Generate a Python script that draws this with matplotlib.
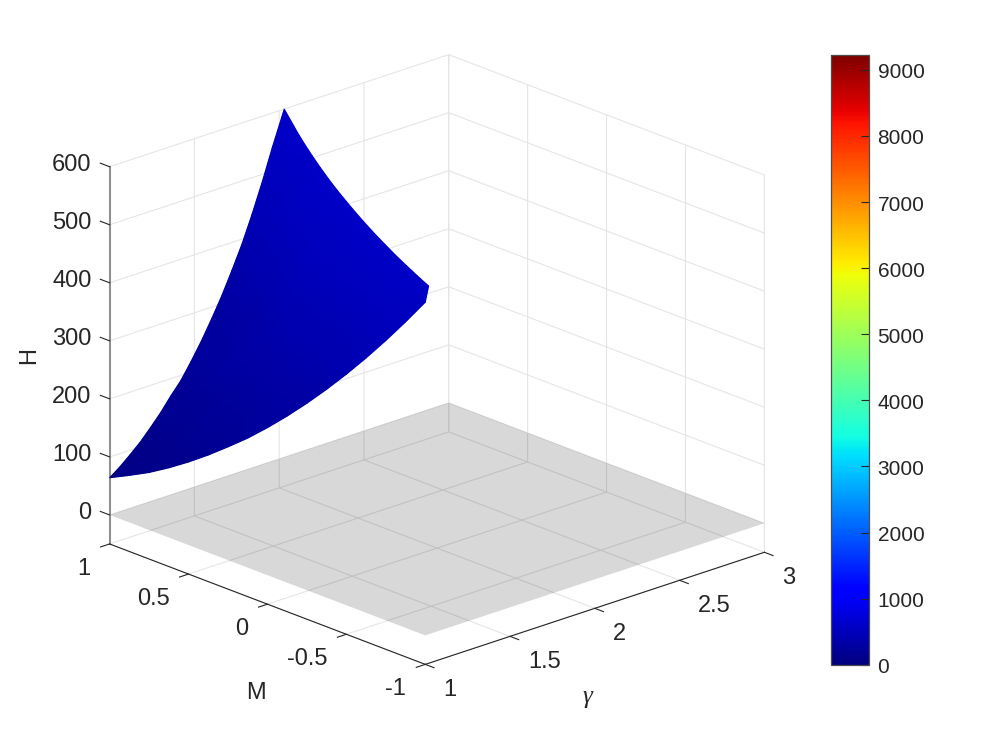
import matplotlib
matplotlib.use('Agg')
import matplotlib.pyplot as plt
import matplotlib.tri as mtri
import numpy as np
from matplotlib import cm
from matplotlib.colors import Normalize
from matplotlib.path import Path
from mpl_toolkits.mplot3d import proj3d

plt.rcParams['font.family'] = ['Liberation Sans', 'DejaVu Sans']

# surface outline. the surface is cut at H = 600, the top of the axis
edge_m1_gamma = [1, 1.06, 1.12, 1.18, 1.24, 1.30, 1.36, 1.42, 1.48, 1.54, 1.60, 1.66, 1.72, 1.78, 1.84, 1.90, 1.96, 2.03]
edge_m1_H = [64, 77, 92, 108, 127, 147, 170, 191, 218, 247, 279, 313, 351, 391, 437, 487, 541, 600]
edge_g1_M = [1, 0.875, 0.75, 0.625, 0.5, 0.375, 0.25, 0.125, 0, -0.125, -0.25, -0.375, -0.5, -0.625, -0.75, -0.875, -1]
edge_g1_H = [64, 81, 99, 120, 143, 168, 195, 223, 254, 287, 322, 359, 398, 439, 482, 527, 574]
cut_M = [0.875, 0.75, 0.625, 0.5, 0.375, 0.25, 0.125, 0, -0.125, -0.25, -0.375, -0.5, -0.625, -0.75, -0.875, -1]
cut_gamma = [1.953, 1.876, 1.802, 1.730, 1.660, 1.592, 1.526, 1.463, 1.401, 1.341, 1.283, 1.227, 1.172, 1.120, 1.069, 1.02]
cut_H = 600

# values inside the outline, one row per M value
inner_M = [0.75, 0.5, 0.25, 0, -0.25, -0.5, -0.75]
inner_gamma = [
    [1.11, 1.22, 1.32, 1.43, 1.54, 1.65, 1.75],
    [1.10, 1.21, 1.31, 1.41, 1.51, 1.62],
    [1.10, 1.20, 1.30, 1.39, 1.49],
    [1.09, 1.18, 1.28, 1.37],
    [1.08, 1.17, 1.25],
    [1.07, 1.15],
    [1.06],
]
inner_H = [
    [135, 178, 223, 281, 348, 425, 503],
    [188, 241, 296, 358, 428, 514],
    [250, 307, 372, 436, 514],
    [311, 371, 446, 520],
    [383, 456, 525],
    [460, 533],
    [537],
]
plane_gamma = [1, 3]
plane_M = [-1, 1]

gamma_ticks = [1, 1.5, 2, 2.5, 3]
M_ticks = [-1, -0.5, 0, 0.5, 1]
H_ticks = [0, 100, 200, 300, 400, 500, 600]
gamma_labels = ['1', '1.5', '2', '2.5', '3']
M_labels = ['-1', '-0.5', '0', '0.5', '1']
H_labels = ['0', '100', '200', '300', '400', '500', '600']
cbar_ticks = [0, 1000, 2000, 3000, 4000, 5000, 6000, 7000, 8000, 9000]
H_color_max = 9220

text_col = '#262626'
W, H = 996, 747

fig = plt.figure(figsize=(W / 100, H / 100), dpi=100)
rect = [53.4 / W, 3.9 / H, 747 / W, 747 / H]
ax = fig.add_axes(rect, projection='3d')
ax.set_proj_type('ortho')
ax.view_init(elev=20.8, azim=227.05)
ax.set_box_aspect((1, 1, 0.871))
ax.set_xlim(1, 3)
ax.set_ylim(-1, 1)
ax.set_zlim(-50, 600)
ax.computed_zorder = False
ax.patch.set_alpha(0)

ax.set_xticks(gamma_ticks)
ax.set_yticks(M_ticks)
ax.set_zticks(H_ticks)
ax.set_xticklabels([])
ax.set_yticklabels([])
ax.set_zticklabels([])
for a in (ax.xaxis, ax.yaxis, ax.zaxis):
    a.set_pane_color((1, 1, 1, 1))
    a.pane.set_edgecolor('none')
    a.line.set_color((0, 0, 0, 0))
    a._axinfo['grid'].update(color='#e4e4e4', linewidth=0.75)
    a._axinfo['tick'].update(inward_factor=0, outward_factor=0)
    a.set_tick_params(color=(0, 0, 0, 0))

# gray plane at H = 0
px, py = zip(*[(g, m) for g in plane_gamma for m in plane_M])
ax.plot_trisurf(px, py, [0, 0, 0, 0], triangles=[[0, 1, 2], [1, 3, 2]], color='k', alpha=0.152,
                linewidth=0, shade=False, zorder=1)

# box edges and ticks
ax.plot([1, 1], [1, 1], [-50, 600], color='#8f8f8f', lw=1.5, zorder=3)
ax.plot([1, 1], [1, -1], [-50, -50], color=text_col, lw=0.8, zorder=3)
ax.plot([1, 3], [-1, -1], [-50, -50], color=text_col, lw=0.8, zorder=3)
for g in gamma_ticks:
    ax.plot([g, g], [-1, -1.055], [-50, -50], color=text_col, lw=0.8, zorder=3)
for m in M_ticks:
    ax.plot([1, 0.947], [m, m], [-50, -50], color=text_col, lw=0.8, zorder=3)
for h in H_ticks:
    ax.plot([1, 1], [1, 1.059], [h, h], color=text_col, lw=0.8, zorder=3)


def to_2d(g, m, h):
    x, y, _ = proj3d.proj_transform(g, m, h, ax.get_proj())
    return x, y


# outline in drawing order, then the inner points
out_g = edge_m1_gamma + cut_gamma + [1] * (len(edge_g1_M) - 1)
out_m = [1] * len(edge_m1_gamma) + cut_M + edge_g1_M[:0:-1]
out_h = edge_m1_H + [cut_H] * len(cut_M) + edge_g1_H[:0:-1]
in_g = [g for row in inner_gamma for g in row]
in_m = [m for m, row in zip(inner_M, inner_gamma) for g in row]
in_h = [h for row in inner_H for h in row]

out_x, out_y = to_2d(np.array(out_g, float), np.array(out_m, float), np.array(out_h, float))
in_x, in_y = to_2d(np.array(in_g, float), np.array(in_m, float), np.array(in_h, float))
all_x = np.r_[out_x, in_x]
all_y = np.r_[out_y, in_y]
all_h = np.array(out_h + in_h, float)

tr = mtri.Triangulation(all_x, all_y)
cx = all_x[tr.triangles].mean(axis=1)
cy = all_y[tr.triangles].mean(axis=1)
tr.set_mask(~Path(np.c_[out_x, out_y]).contains_points(np.c_[cx, cy]))

# the 3d axes cannot hold a gouraud mesh, so it sits in a plain axes on top with the same scale
norm = Normalize(0, H_color_max)
(x0, y0), (x1, y1) = ax.transData.inverted().transform(ax.transAxes.transform([(0, 0), (1, 1)]))
ax2 = fig.add_axes(rect, frameon=False)
ax2.axis('off')
ax2.fill(out_x, out_y, color=cm.jet(norm(300)), lw=0, zorder=1)
ax2.tripcolor(tr, all_h, shading='gouraud', cmap='jet', norm=norm, zorder=2)
ax2.set_xlim(x0, x1)
ax2.set_ylim(y0, y1)

px_off = 0.72
for g, s in zip(gamma_ticks, gamma_labels):
    ax.annotate(s, to_2d(g, -1, -50), xytext=(18 * px_off, -26 * px_off), textcoords='offset points',
                ha='left', va='center', fontsize=17, color=text_col, annotation_clip=False)
for m, s in zip(M_ticks, M_labels):
    ax.annotate(s, to_2d(1, m, -50), xytext=(-19 * px_off, -25 * px_off), textcoords='offset points',
                ha='right', va='center', fontsize=17, color=text_col, annotation_clip=False)
for h, s in zip(H_ticks, H_labels):
    ax.annotate(s, to_2d(1, 1, h), xytext=(-18 * px_off, 2 * px_off), textcoords='offset points',
                ha='right', va='center', fontsize=17, color=text_col, annotation_clip=False)

fig.text(256 / W, 1 - 693 / H, 'M', fontsize=17, color=text_col, ha='center', va='center')
fig.text(29 / W, 1 - 356 / H, 'H', fontsize=17, color=text_col, ha='center', va='center', rotation=90)
fig.text(587 / W, 1 - 697 / H, 'γ', fontsize=18, color=text_col, ha='center', va='center',
         family='Liberation Serif', style='italic')

# colorbar
cax = fig.add_axes([830.5 / W, 1 - 664.7 / H, 38.5 / W, 609.4 / H])
cb = fig.colorbar(cm.ScalarMappable(norm=norm, cmap='jet'), cax=cax, ticks=cbar_ticks)
cb.ax.tick_params(direction='in', length=5.5, width=0.8, color=text_col, labelright=False)
for t in cbar_ticks:
    cax.annotate(str(t), (1, t), xycoords=cax.get_yaxis_transform(), xytext=(8.5 * px_off, -3 * px_off),
                 textcoords='offset points', ha='left', va='center', fontsize=15, color=text_col,
                 annotation_clip=False)
cb.outline.set_edgecolor('#4d4d4d')
cb.outline.set_linewidth(0.9)

fig.savefig('out.png', dpi=100)
